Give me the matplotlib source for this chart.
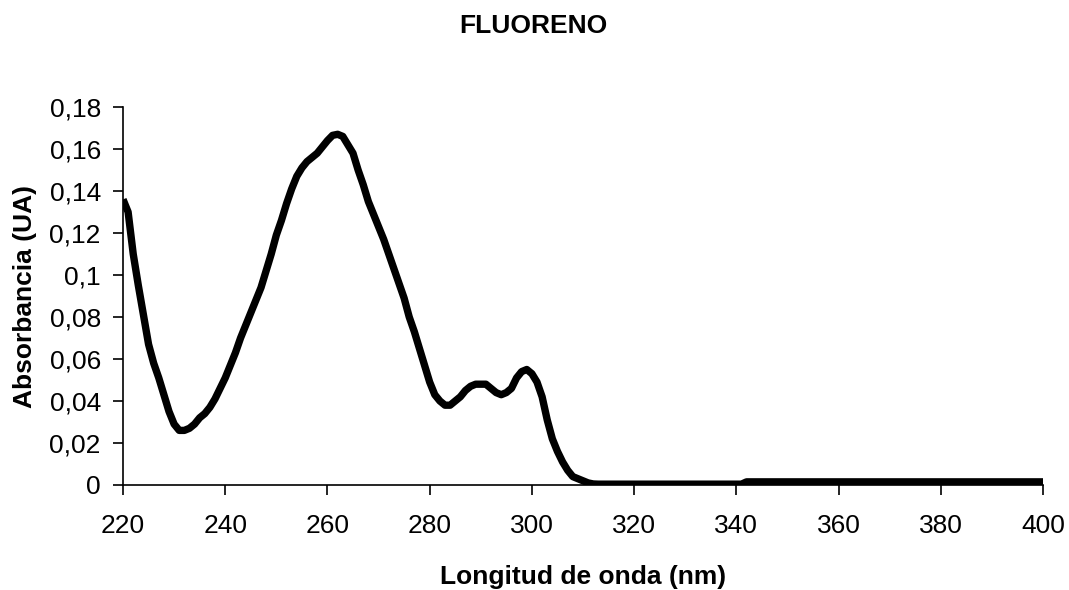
import matplotlib
matplotlib.use("Agg")
import matplotlib.pyplot as plt

plt.rcParams['font.family'] = ['Liberation Sans', 'DejaVu Sans']

# absorption spectrum
wavelength = [220, 221, 222, 223, 224, 225, 226, 227, 228, 229,
              230, 231, 232, 233, 234, 235, 236, 237, 238, 239,
              240, 241, 242, 243, 244, 245, 246, 247, 248, 249,
              250, 251, 252, 253, 254, 255, 256, 257, 258, 259,
              260, 261, 262, 263, 264, 265, 266, 267, 268, 269,
              270, 271, 272, 273, 274, 275, 276, 277, 278, 279,
              280, 281, 282, 283, 284, 285, 286, 287, 288, 289,
              290, 291, 292, 293, 294, 295, 296, 297, 298, 299,
              300, 301, 302, 303, 304, 305, 306, 307, 308, 309,
              310, 311, 312, 313, 341, 342, 400]
absorbance = [0.136, 0.130, 0.110, 0.095, 0.081, 0.067, 0.058, 0.051, 0.043, 0.035,
              0.029, 0.026, 0.026, 0.027, 0.029, 0.032, 0.034, 0.037, 0.041, 0.046,
              0.051, 0.057, 0.063, 0.070, 0.076, 0.082, 0.088, 0.094, 0.102, 0.110,
              0.119, 0.126, 0.134, 0.141, 0.147, 0.151, 0.154, 0.156, 0.158, 0.161,
              0.164, 0.1665, 0.167, 0.166, 0.162, 0.158, 0.150, 0.143, 0.135, 0.129,
              0.123, 0.117, 0.110, 0.103, 0.096, 0.089, 0.080, 0.073, 0.065, 0.057,
              0.049, 0.043, 0.040, 0.038, 0.038, 0.040, 0.042, 0.045, 0.047, 0.048,
              0.048, 0.048, 0.046, 0.044, 0.043, 0.044, 0.046, 0.051, 0.054, 0.055,
              0.053, 0.049, 0.042, 0.031, 0.022, 0.016, 0.011, 0.007, 0.004, 0.003,
              0.002, 0.001, 0.0005, 0.0004, 0.0004, 0.0015, 0.0015]

x_ticks = [220, 240, 260, 280, 300, 320, 340, 360, 380, 400]
y_ticks = [0, 0.02, 0.04, 0.06, 0.08, 0.1, 0.12, 0.14, 0.16, 0.18]
y_tick_labels = ['0', '0,02', '0,04', '0,06', '0,08', '0,1', '0,12', '0,14', '0,16', '0,18']

fig = plt.figure(figsize=(10.69, 5.90), dpi=100)
ax = fig.add_axes([123/1069, 105/590, 920/1069, 378/590])

ax.plot(wavelength, absorbance, color='black', linewidth=5.3,
        solid_joinstyle='round', solid_capstyle='butt')

ax.set_xlim(220, 400)
ax.set_ylim(0, 0.18)
ax.set_xticks(x_ticks)
ax.set_yticks(y_ticks)
ax.set_yticklabels(y_tick_labels)

for side in ['top', 'right']:
    ax.spines[side].set_visible(False)
for side in ['left', 'bottom']:
    ax.spines[side].set_linewidth(1.2)
    ax.spines[side].set_color('black')

ax.tick_params(axis='both', direction='out', length=7, width=1.2,
               labelsize=19, color='black')
ax.tick_params(axis='x', pad=14)
ax.tick_params(axis='y', pad=9)

ax.set_xlabel('Longitud de onda (nm)', fontsize=19, fontweight='bold', labelpad=19)
ax.set_ylabel('Absorbancia (UA)', fontsize=19, fontweight='bold', labelpad=9)
fig.text(0.499, 1 - 26/590, 'FLUORENO', fontsize=19, fontweight='bold',
         ha='center', va='center')

fig.savefig('out.png', dpi=100)
